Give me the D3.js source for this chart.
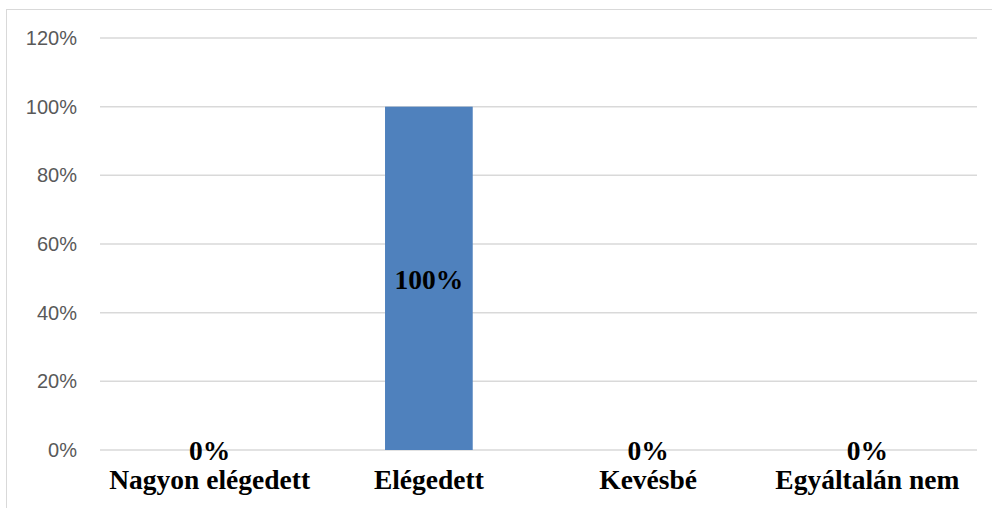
<!DOCTYPE html>
<html>
<head>
<meta charset="utf-8">
<script src="https://cdn.jsdelivr.net/npm/d3@7"></script>
<style>
  html, body { margin: 0; padding: 0; background: #fff; }
  svg { display: block; }
</style>
</head>
<body>
<svg id="chart" width="992" height="508"></svg>
<script>
// Satisfaction survey results
const categories = ["Nagyon elégedett", "Elégedett", "Kevésbé", "Egyáltalán nem"];
const values = [0, 100, 0, 0];
const yTicks = [0, 20, 40, 60, 80, 100, 120];

const svg = d3.select("#chart");
const W = 992, H = 508;
const margin = { left: 100, right: 15, top: 38, bottom: 58 };

// chart area frame
svg.append("rect")
  .attr("x", 6.5).attr("y", 9.5)
  .attr("width", W + 20).attr("height", H + 20)
  .attr("fill", "#fff")
  .attr("stroke", "#d9d9d9").attr("stroke-width", 1);

const x = d3.scaleBand()
  .domain(categories)
  .range([margin.left, W - margin.right])
  .paddingInner(0)
  .paddingOuter(0);

const y = d3.scaleLinear()
  .domain([0, 120])
  .range([H - margin.bottom, margin.top]);

// horizontal gridlines
svg.append("g")
  .selectAll("line")
  .data(yTicks)
  .join("line")
  .attr("x1", margin.left).attr("x2", W - margin.right)
  .attr("y1", d => y(d)).attr("y2", d => y(d))
  .attr("stroke", "#d9d9d9").attr("stroke-width", 1.5);

// y axis labels
const yAxis = d3.axisLeft(y)
  .tickValues(yTicks)
  .tickFormat(d => d + "%")
  .tickSize(0)
  .tickPadding(0);
const gy = svg.append("g")
  .attr("transform", `translate(${margin.left - 23},0)`)
  .call(yAxis);
gy.select(".domain").remove();
gy.selectAll("text")
  .attr("fill", "#595959")
  .style("font-family", "'Liberation Sans', Arial, sans-serif")
  .style("font-size", "20px");

// bars
const barW = x.bandwidth() * 0.4;
svg.append("g")
  .selectAll("rect")
  .data(values)
  .join("rect")
  .attr("x", (d, i) => x(categories[i]) + (x.bandwidth() - barW) / 2)
  .attr("width", barW)
  .attr("y", d => y(d))
  .attr("height", d => y(0) - y(d))
  .attr("fill", "#4f81bd");

// value labels: centred inside bars, or just above baseline for zero
svg.append("g")
  .selectAll("text")
  .data(values)
  .join("text")
  .attr("x", (d, i) => x(categories[i]) + x.bandwidth() / 2)
  .attr("y", d => d > 0 ? (y(d) + y(0)) / 2 + 10.5 : y(0) + 10)
  .attr("text-anchor", "middle")
  .style("font-family", "'Liberation Serif', 'Times New Roman', serif")
  .style("font-weight", "bold")
  .style("font-size", "27.5px")
  .attr("fill", "#000")
  .text(d => d + "%");

// category axis labels
const xAxis = d3.axisBottom(x).tickSize(0).tickPadding(0);
const gx = svg.append("g")
  .attr("transform", `translate(0,${y(0) + 19})`)
  .call(xAxis);
gx.select(".domain").remove();
gx.selectAll("text")
  .attr("fill", "#000")
  .attr("dy", "0.71em")
  .style("font-family", "'Liberation Serif', 'Times New Roman', serif")
  .style("font-weight", "bold")
  .style("font-size", "27.5px");
</script>
</body>
</html>
